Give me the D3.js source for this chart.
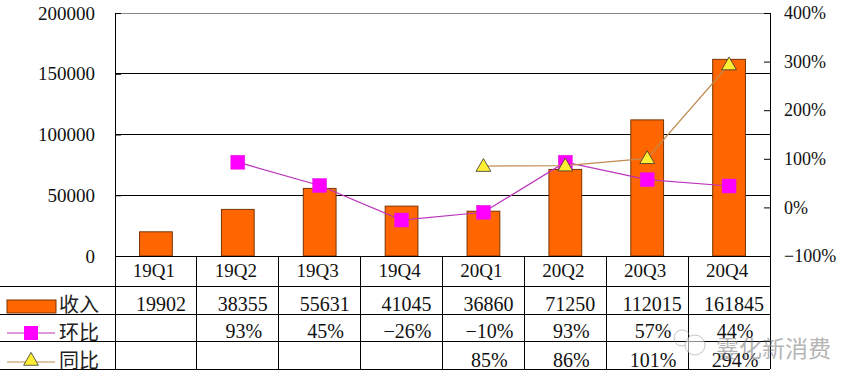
<!DOCTYPE html>
<html><head><meta charset="utf-8">
<script src="https://cdn.jsdelivr.net/npm/d3@7"></script>
<style>
html,body{margin:0;padding:0;background:#fff;}
svg{display:block;}
</style>
</head><body>
<svg id="chart" width="847" height="384"></svg>
<script>
const categories = ["19Q1","19Q2","19Q3","19Q4","20Q1","20Q2","20Q3","20Q4"];
const revenue = [19902,38355,55631,41045,36860,71250,112015,161845];
const qoq = [null,0.93,0.45,-0.26,-0.10,0.93,0.57,0.44];
const yoy = [null,null,null,null,0.85,0.86,1.01,2.94];
const leftTicks = [0,50000,100000,150000,200000];
const rightTicks = [-1,0,1,2,3,4];
const rowLabels = ["收入","环比","同比"];

const svg = d3.select("#chart");
const L = 115, R = 770, T = 13, B = 256;
const rowY = [256, 286, 314, 341, 369];
const numFont = "'Liberation Serif','Times New Roman',serif";
const cjkFont = "'Noto Sans CJK SC',sans-serif";

const x = d3.scaleBand().domain(categories).range([L, R]).padding(0);
const yL = d3.scaleLinear().domain([0, 200000]).range([B, T]);
const yR = d3.scaleLinear().domain([-1, 4]).range([B, T]);
const bw = x.bandwidth() * 0.4;
const cx = c => x(c) + x.bandwidth() / 2;
const pct = v => (v < 0 ? "\u2212" : "") + Math.round(Math.abs(v) * 100) + "%";

// gridlines
svg.append("g").selectAll("line").data(leftTicks.filter(d => d > 0)).join("line")
  .attr("x1", L).attr("x2", R).attr("y1", d => yL(d)).attr("y2", d => yL(d))
  .attr("stroke", d => d === 200000 ? "#888" : "#000").attr("stroke-width", 1)
  .attr("shape-rendering", "crispEdges");

// bars
svg.append("g").selectAll("rect").data(categories).join("rect")
  .attr("x", (c) => cx(c) - bw / 2).attr("width", bw)
  .attr("y", (c, i) => yL(revenue[i])).attr("height", (c, i) => B - yL(revenue[i]))
  .attr("fill", "#FF6600").attr("stroke", "#7a3300").attr("stroke-width", 1);

// left axis
const gL = svg.append("g").attr("transform", `translate(${L},0)`)
  .call(d3.axisLeft(yL).tickValues(leftTicks).tickSize(-6).tickPadding(20).tickFormat(d3.format("d")));
gL.select(".domain").remove();
gL.selectAll("line").attr("stroke", "#000");
gL.selectAll("text").attr("font-family", numFont).attr("font-size", 19).attr("fill", "#111");

// right axis
const gR = svg.append("g").attr("transform", `translate(${R},0)`)
  .call(d3.axisRight(yR).tickValues(rightTicks).tickSize(-6).tickPadding(20).tickFormat(pct));
gR.select(".domain").remove();
gR.selectAll("line").attr("stroke", "#000");
gR.selectAll("text").attr("font-family", numFont).attr("font-size", 18).attr("fill", "#111").attr("x", 14);

// table lines
const tbl = svg.append("g").attr("stroke", "#000").attr("stroke-width", 1).attr("shape-rendering", "crispEdges");
tbl.append("line").attr("x1", L).attr("x2", R).attr("y1", rowY[0]).attr("y2", rowY[0]);
rowY.slice(1).forEach(yy => tbl.append("line").attr("x1", 0).attr("x2", R).attr("y1", yy).attr("y2", yy));
tbl.append("line").attr("x1", L).attr("x2", L).attr("y1", T).attr("y2", rowY[4]);
tbl.append("line").attr("x1", R).attr("x2", R).attr("y1", T).attr("y2", rowY[4]);
tbl.selectAll(".sep").data(categories.slice(1)).join("line").attr("class", "sep")
  .attr("x1", c => x(c)).attr("x2", c => x(c)).attr("y1", rowY[0]).attr("y2", rowY[4]);

// category labels
svg.append("g").selectAll("text").data(categories).join("text")
  .attr("x", c => cx(c) - 2).attr("y", 277).attr("text-anchor", "middle")
  .attr("font-family", numFont).attr("font-size", 19).attr("fill", "#111").text(c => c);

// table values
const tv = svg.append("g").attr("font-family", numFont).attr("font-size", 20).attr("fill", "#111").attr("text-anchor", "middle");
tv.selectAll(".rv").data(categories).join("text").attr("class", "rv")
  .attr("x", c => cx(c) + 5).attr("y", 311).text((c, i) => revenue[i]);
tv.selectAll(".qv").data(categories.filter((c, i) => qoq[i] !== null)).join("text").attr("class", "qv")
  .attr("x", c => cx(c) + 6).attr("y", 338).text(c => pct(qoq[categories.indexOf(c)]));
tv.selectAll(".yv").data(categories.filter((c, i) => yoy[i] !== null)).join("text").attr("class", "yv")
  .attr("x", c => cx(c) + 6).attr("y", 367).text(c => pct(yoy[categories.indexOf(c)]));

// qoq line
const qPts = categories.map((c, i) => ({c, v: qoq[i]})).filter(d => d.v !== null);
svg.append("path").datum(qPts)
  .attr("d", d3.line().x(d => cx(d.c)).y(d => yR(d.v)))
  .attr("fill", "none").attr("stroke", "#BB33BB").attr("stroke-width", 1.2);
svg.append("g").selectAll("rect").data(qPts).join("rect")
  .attr("x", d => cx(d.c) - 7).attr("y", d => yR(d.v) - 7).attr("width", 14).attr("height", 14)
  .attr("fill", "#FF00FF").attr("stroke", "#dd22dd").attr("stroke-width", 0.5);

// yoy line
const yPts = categories.map((c, i) => ({c, v: yoy[i]})).filter(d => d.v !== null);
svg.append("path").datum(yPts)
  .attr("d", d3.line().x(d => cx(d.c)).y(d => yR(d.v)))
  .attr("fill", "none").attr("stroke", "#C08a50").attr("stroke-width", 1.2);
const tri = d3.symbol().type(d3.symbolTriangle).size(95);
svg.append("g").selectAll("path").data(yPts).join("path")
  .attr("transform", d => `translate(${cx(d.c)},${yR(d.v) + 1})`)
  .attr("d", tri).attr("fill", "#FFEE33").attr("stroke", "#333").attr("stroke-width", 0.8);

// legend in table
const lg = svg.append("g");
lg.append("rect").attr("x", 7).attr("y", 300).attr("width", 49).attr("height", 13)
  .attr("fill", "#FF6600").attr("stroke", "#7a3300");
lg.append("line").attr("x1", 7).attr("x2", 55).attr("y1", 333).attr("y2", 333).attr("stroke", "#BB33BB").attr("stroke-width", 1.2);
lg.append("rect").attr("x", 24).attr("y", 326).attr("width", 14).attr("height", 14).attr("fill", "#FF00FF");
lg.append("line").attr("x1", 7).attr("x2", 55).attr("y1", 362).attr("y2", 362).attr("stroke", "#C08a50").attr("stroke-width", 1.2);
lg.append("path").attr("transform", "translate(31,361)").attr("d", tri).attr("fill", "#FFEE33").attr("stroke", "#333").attr("stroke-width", 0.8);
lg.selectAll("text").data(rowLabels).join("text")
  .attr("x", 59).attr("y", (d, i) => [312, 340, 368][i])
  .attr("font-family", cjkFont).attr("font-size", 20).attr("fill", "#222").text(d => d);

// watermark
const wm = svg.append("g").attr("opacity", 0.55);
wm.append("circle").attr("cx", 682).attr("cy", 338).attr("r", 8).attr("fill", "none").attr("stroke", "#999");
wm.append("circle").attr("cx", 695).attr("cy", 345).attr("r", 10).attr("fill", "#fff").attr("stroke", "#999");
wm.append("text").attr("x", 716).attr("y", 357).attr("font-family", cjkFont).attr("font-size", 23)
  .attr("fill", "#777").text("霎化新消费");
</script>
</body></html>
